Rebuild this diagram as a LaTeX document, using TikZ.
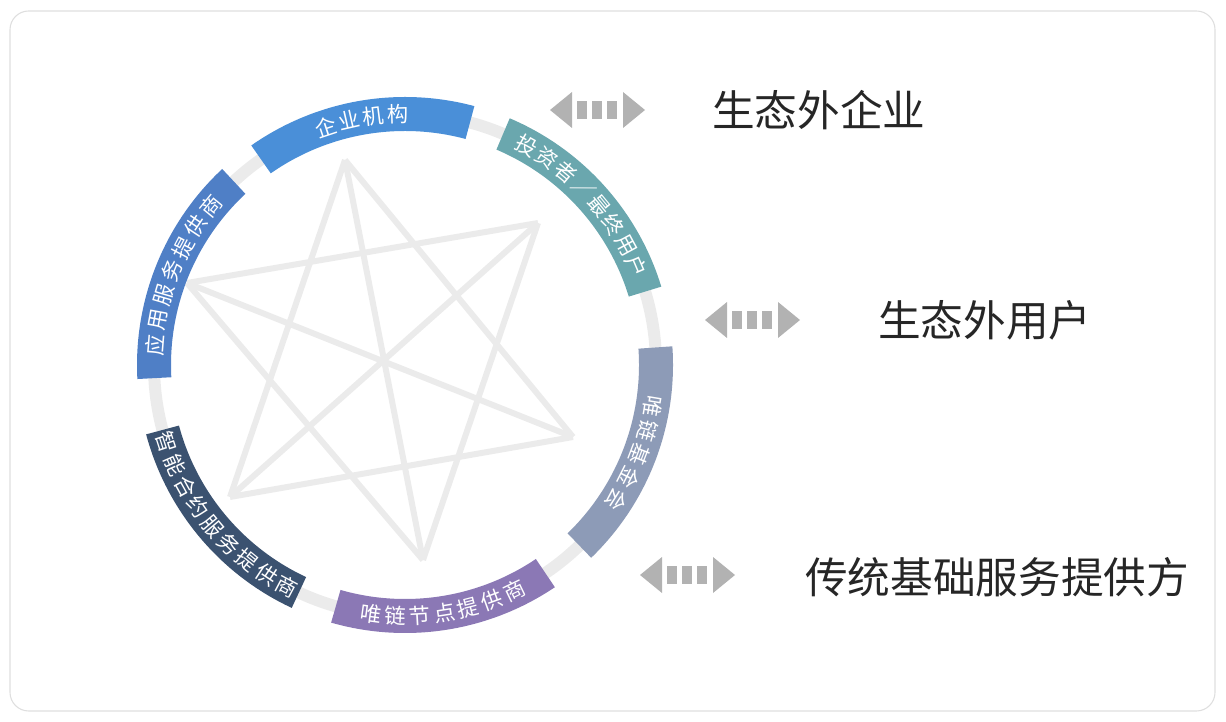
\documentclass[tikz,border=0pt]{standalone}
\usepackage{fontspec}
\setmainfont{Noto Sans CJK SC}
\begin{document}
\begin{tikzpicture}[x=0.75pt,y=0.75pt,
  star/.style={draw=black!8,line width=4.5pt},
  seglabel/.style={text=white,font=\fontsize{16}{16}\selectfont,inner sep=0pt},
  biglabel/.style={text=black!85,font=\fontsize{32}{34}\selectfont,anchor=west,inner sep=0pt},
  arr/.style={fill=black!30,draw=none}]
\useasboundingbox (0,0) rectangle (1226,721);
\draw[black!13,line width=0.8pt,rounded corners=14pt] (10,10) rectangle (1215,710);
\definecolor{cA}{HTML}{4A8FD8}
\definecolor{cB}{HTML}{6AA7AE}
\definecolor{cC}{HTML}{8D9BB7}
\definecolor{cD}{HTML}{8B78B5}
\definecolor{cE}{HTML}{3B5270}
\definecolor{cF}{HTML}{4F7FC6}
% star vertices
\coordinate (vT) at (345,561);
\coordinate (vUR) at (538,498);
\coordinate (vR) at (573,284);
\coordinate (vB) at (423,161);
\coordinate (vLL) at (230,224);
\coordinate (vL) at (187,438);
\foreach \a/\b in {vT/vR,vT/vB,vT/vLL,vUR/vB,vUR/vLL,vUR/vL,vR/vLL,vR/vL,vB/vL}
  \draw[star] (\a) -- (\b);
\begin{scope}[shift={(405,356)}]
\draw[black!8,line width=9pt] (0,0) circle (251);
\foreach \c/\col in {100/cA,42/cB,-21/cC,-81/cD,-140/cE,158/cF}
  \fill[\col] (\c-25:268) arc[start angle=\c-25,end angle=\c+25,radius=268]
     -- (\c+25:234) arc[start angle=\c+25,end angle=\c-25,radius=234] -- cycle;
% clockwise reading
\foreach \c/\n/\s/\txt in {100/4/5.6/{企,业,机,构},42/8/5.4/{投,资,者,／,最,终,用,户},-21/5/5.8/{唯,链,基,金,会},158/7/5.8/{应,用,服,务,提,供,商}}{
  \foreach \ch [count=\i from 0] in \txt {
    \pgfmathsetmacro\ang{\c+(\n-1)/2*\s-\i*\s}
    \node[seglabel,rotate=\ang-90] (t\c-\i) at (\ang:251) {\ch};
  }
}
% counterclockwise reading
\foreach \c/\n/\s/\txt in {-81/7/5.6/{唯,链,节,点,提,供,商},-140/9/5.5/{智,能,合,约,服,务,提,供,商}}{
  \foreach \ch [count=\i from 0] in \txt {
    \pgfmathsetmacro\ang{\c-(\n-1)/2*\s+\i*\s}
    \node[seglabel,rotate=\ang+90] (u\c-\i) at (\ang:251) {\ch};
  }
}
\end{scope}
% double arrows
\foreach \x/\y in {550/611,705/401,640/146}{
  \begin{scope}[shift={(\x,\y)}]
    \fill[arr] (0,0) -- (22,18) -- (22,-18) -- cycle;
    \fill[arr] (95,0) -- (73,18) -- (73,-18) -- cycle;
    \fill[arr] (27,-9) rectangle (37,9);
    \fill[arr] (42,-9) rectangle (52,9);
    \fill[arr] (57,-9) rectangle (67,9);
  \end{scope}
}
\node[biglabel] (l1) at (712,611) {生态外企业};
\node[biglabel] (l2) at (878,401) {生态外用户};
\node[biglabel] (l3) at (805,144) {传统基础服务提供方};
\end{tikzpicture}
\end{document}
